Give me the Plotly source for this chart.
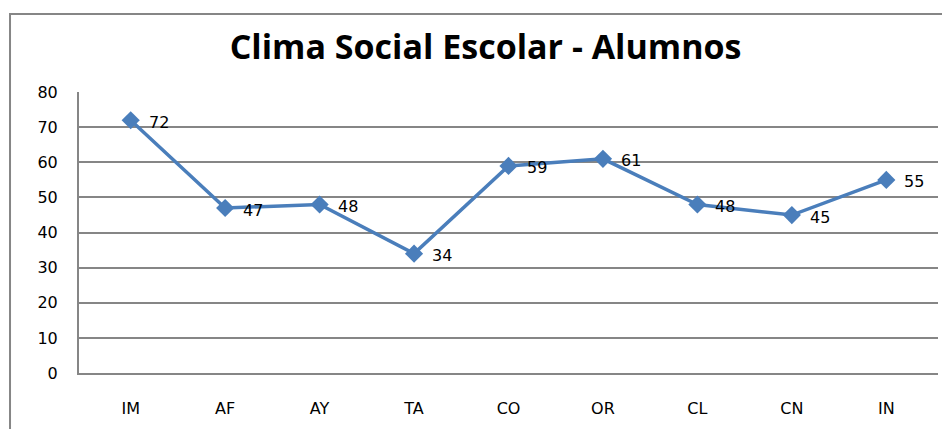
import plotly.graph_objects as go

# datos del gráfico
categorias = ['IM', 'AF', 'AY', 'TA', 'CO', 'OR', 'CL', 'CN', 'IN']
valores = [72, 47, 48, 34, 59, 61, 48, 45, 55]
ticks_y = [0, 10, 20, 30, 40, 50, 60, 70, 80]

azul = '#4A7EBB'
gris = '#868686'

fig = go.Figure()

fig.add_trace(go.Scatter(x=categorias, y=valores,
                         mode='lines+markers',
                         line=dict(color=azul, width=3.5),
                         marker=dict(symbol='diamond', size=14, color=azul),
                         showlegend=False, hoverinfo='x+y'))

# etiquetas de valor a la derecha de cada punto
for c, v in zip(categorias, valores):
    fig.add_annotation(x=c, y=v, text=str(v), showarrow=False,
                       xanchor='left', xshift=16, yshift=-2,
                       font=dict(family='DejaVu Sans', size=16, color='black'))

# marco exterior del gráfico (solo izquierda y arriba se ven)
fig.add_shape(type='path', xref='paper', yref='paper',
              path='M -0.0803,-0.3 L -0.0803,1.2776 L 1.1,1.2776',
              line=dict(color=gris, width=2))

# la página deja 8px de margen, por eso la figura es 942x421
fig.update_layout(
    width=942, height=421,
    margin=dict(l=71, r=12, t=84, b=56),
    paper_bgcolor='white', plot_bgcolor='white',
    title=dict(text='<b>Clima Social Escolar - Alumnos</b>',
               x=0.507, xanchor='center', y=0.907, yanchor='middle',
               font=dict(family='Open Sans', size=34, color='black')),
    xaxis=dict(showgrid=False, showline=True, linecolor=gris, linewidth=2,
               zeroline=False, automargin=False,
               tickfont=dict(family='DejaVu Sans', size=16, color='black'),
               ticks='', ticklabelstandoff=20),
    yaxis=dict(range=[0, 80.05], tickvals=ticks_y, showgrid=True,
               gridcolor=gris, gridwidth=2, zeroline=False, automargin=False,
               showline=True, linecolor=gris, linewidth=2,
               tickfont=dict(family='DejaVu Sans', size=16, color='black'),
               ticks='', ticklabelstandoff=16),
)

fig.write_html("out.html")
